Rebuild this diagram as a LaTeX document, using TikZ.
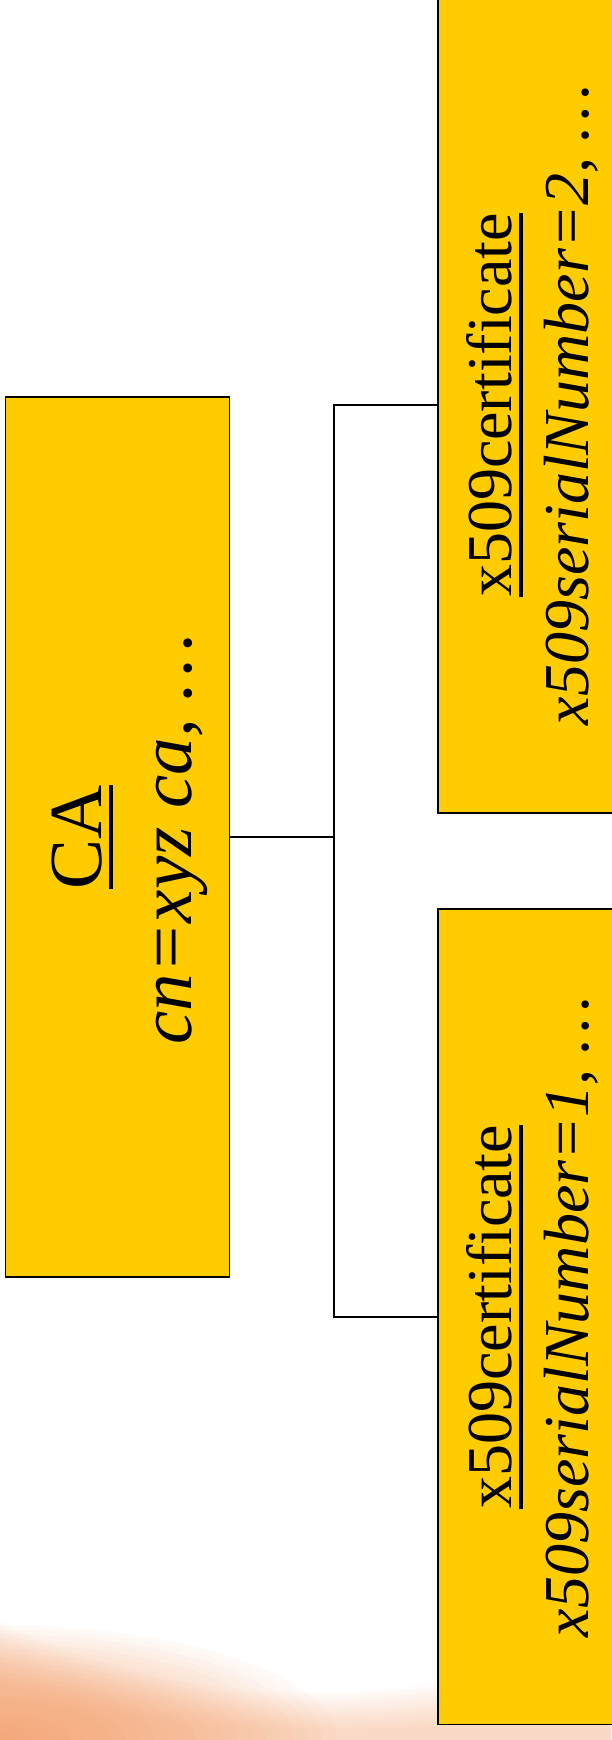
\documentclass[tikz,border=0pt]{standalone}
\usepackage{fontspec}
\setmainfont{Liberation Serif}
\definecolor{Gold}{HTML}{FFCC00}
\definecolor{Swoosh}{HTML}{F08A4B}
\definecolor{Ink}{HTML}{000000}
\newsavebox\ulinebox
\newcommand{\ulined}[1]{\sbox\ulinebox{#1}\rlap{\rule[-11pt]{\wd\ulinebox}{3.6pt}}\usebox\ulinebox}

\begin{document}
\begin{tikzpicture}[x=1pt,y=-1pt,
  entry/.style={draw=Ink,line width=1.8pt,fill=Gold,minimum width=224pt,inner sep=0pt},
  rotline/.style={rotate=90,anchor=base,inner sep=0pt},
  bigtext/.style={font=\fontsize{75}{90}\selectfont},
  smalltext/.style={font=\fontsize{64}{77}\selectfont},
  link/.style={draw=Ink,line width=1.5pt}]
\useasboundingbox (0,0) rectangle (611,1740);

% Background swoosh in the lower left corner, built from faint layers.
\foreach \k in {0,...,15}
  \fill[Swoosh,opacity=0.022] (0,1620+4*\k) .. controls (150,1700+2.5*\k) and (360,1720+1.5*\k) ..
    (611,1645+4*\k) -- (611,1740) -- (0,1740) -- cycle;
\foreach \k in {1,...,24}
  \fill[Swoosh,opacity=0.038] (0,1740) ellipse ({14*\k} and {4.8*\k});

% Directory entries.
\node[entry,minimum height=879.6pt] (ca) at (117.5,836.8) {};
\node[entry,minimum height=815.5pt] (certtwo) at (550,405) {};
\node[entry,minimum height=815.5pt] (certone) at (550,1316.8) {};

% Rotated texts, one node per line.
\node[rotline,bigtext] (catitle) at (101.7,837) {\ulined{CA}};
\node[rotline,bigtext] (cadn) at (191.7,839) {\itshape cn=xyz ca, …};
\node[rotline,smalltext] (certtwotitle) at (511.7,405) {\ulined{x509certificate}};
\node[rotline,smalltext] (certtwoattr) at (588,405) {\itshape x509serialNumber=2, …};
\node[rotline,smalltext] (certonetitle) at (511.7,1316.8) {\ulined{x509certificate}};
\node[rotline,smalltext] (certoneattr) at (588,1316.8) {\itshape x509serialNumber=1, …};

% Tree connectors.
\coordinate (fork) at (334,836.8);
\draw[link] (ca.east) -- (fork);
\draw[link] (fork) |- (certtwo.west);
\draw[link] (fork) |- (certone.west);
\end{tikzpicture}
\end{document}
